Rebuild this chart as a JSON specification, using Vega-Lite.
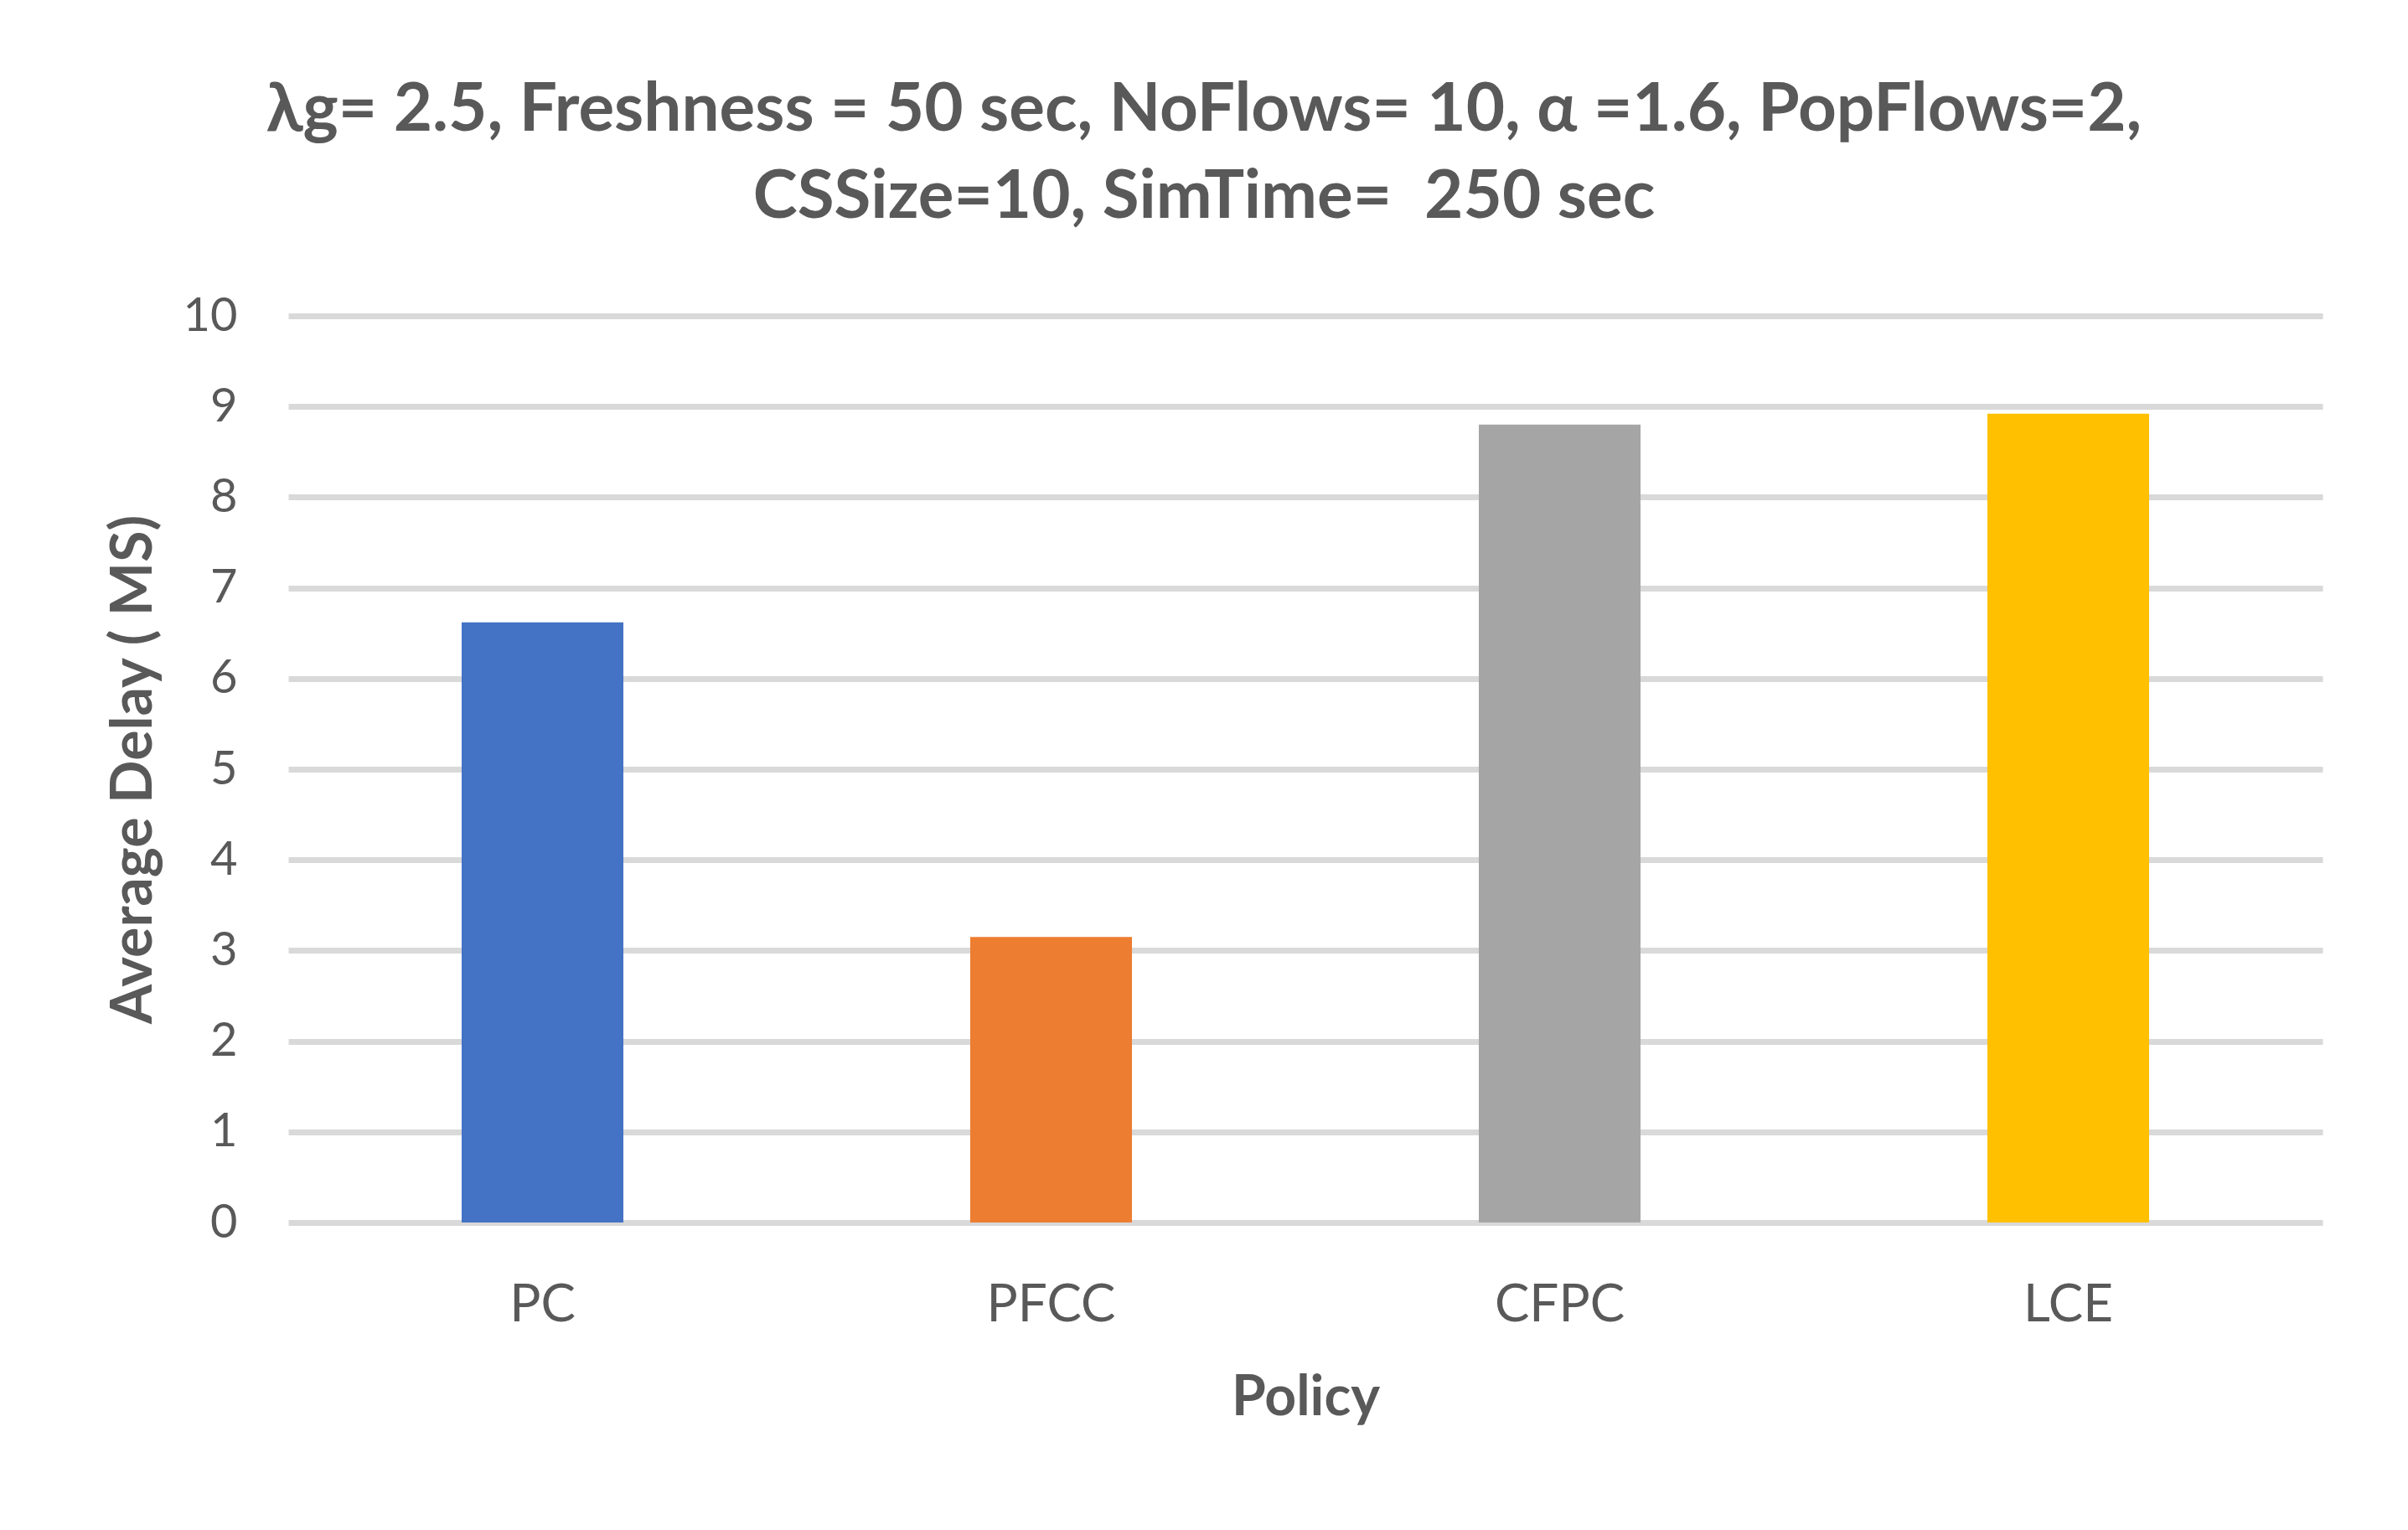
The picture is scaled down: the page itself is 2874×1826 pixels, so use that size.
{
  "$schema": "https://vega.github.io/schema/vega-lite/v6.json",
  "width": 2428,
  "height": 1082,
  "autosize": {"type": "none"},
  "padding": {"left": 344, "top": 377, "right": 102, "bottom": 367},
  "background": "white",
  "title": {
    "text": ["λg= 2.5, Freshness = 50 sec, NoFlows= 10, α =1.6, PopFlows=2,", "CSSize=10, SimTime=\u00a0 250 sec"],
    "font": "Lato",
    "fontSize": 80,
    "fontWeight": "bold",
    "color": "#595959",
    "lineHeight": 104,
    "anchor": "middle",
    "dx": -121,
    "offset": 72
  },
  "data": {
    "values": [
      {"policy": "PC", "delay": 6.62},
      {"policy": "PFCC", "delay": 3.15},
      {"policy": "CFPC", "delay": 8.80},
      {"policy": "LCE", "delay": 8.92}
    ]
  },
  "mark": {"type": "bar"},
  "encoding": {
    "x": {
      "field": "policy",
      "type": "nominal",
      "sort": null,
      "scale": {"paddingInner": 0.682, "paddingOuter": 0.341},
      "axis": {
        "title": "Policy",
        "titleFont": "Lato",
        "titleFontSize": 66,
        "titleFontWeight": "bold",
        "titleColor": "#595959",
        "titleY": 229,
        "titleBaseline": "alphabetic",
        "labelFont": "Lato",
        "labelFontSize": 62,
        "labelColor": "#595959",
        "labelAngle": 0,
        "labelBaseline": "alphabetic",
        "labelPadding": 117,
        "ticks": false,
        "tickSize": 0,
        "domain": false,
        "grid": false
      }
    },
    "y": {
      "field": "delay",
      "type": "quantitative",
      "scale": {"domain": [0, 10]},
      "axis": {
        "title": "Average Delay ( MS)",
        "titleFont": "Lato",
        "titleFontSize": 68,
        "titleFontWeight": "bold",
        "titleColor": "#595959",
        "titleX": -164,
        "titleBaseline": "alphabetic",
        "labelFont": "Lato",
        "labelFontSize": 56,
        "labelColor": "#595959",
        "labelPadding": 61,
        "ticks": false,
        "tickSize": 0,
        "domain": false,
        "grid": true,
        "gridColor": "#D9D9D9",
        "gridWidth": 7,
        "values": [0, 1, 2, 3, 4, 5, 6, 7, 8, 9, 10]
      }
    },
    "color": {
      "field": "policy",
      "type": "nominal",
      "scale": {
        "domain": ["PC", "PFCC", "CFPC", "LCE"],
        "range": ["#4472C4", "#ED7D31", "#A5A5A5", "#FFC000"]
      },
      "legend": null
    }
  },
  "config": {"view": {"stroke": null}}
}
